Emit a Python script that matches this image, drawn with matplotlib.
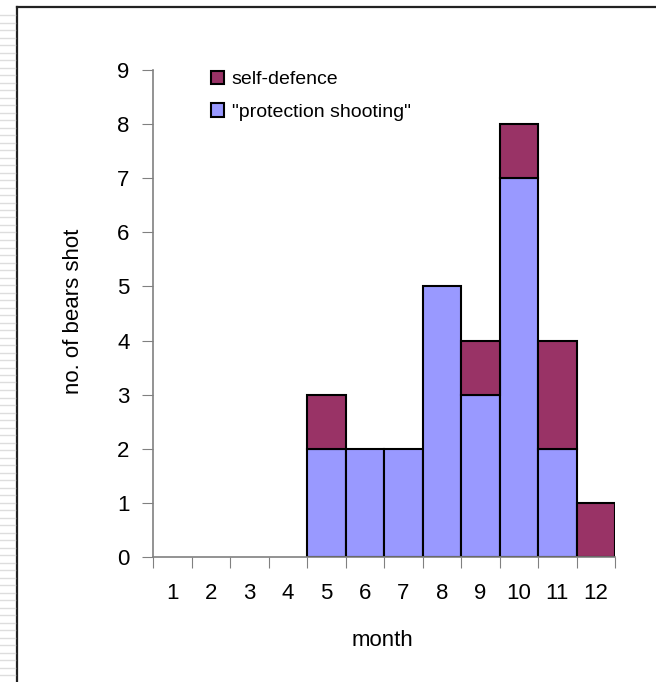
import matplotlib
matplotlib.use("Agg")
import matplotlib.pyplot as plt
from matplotlib.lines import Line2D
import numpy as np

plt.rcParams['font.family'] = ['Liberation Sans', 'DejaVu Sans']

# monthly counts of bears shot
months = np.arange(1, 13)
protection = [0, 0, 0, 0, 2, 2, 2, 5, 3, 7, 2, 0]
self_defence = [0, 0, 0, 0, 1, 0, 0, 0, 1, 1, 2, 1]

fig = plt.figure(figsize=(6.56, 6.82), dpi=100)
ax = fig.add_axes([153 / 656, 125 / 682, 462 / 656, 487 / 682])

b1 = ax.bar(months, protection, width=1, color="#9999FF", edgecolor="black",
            linewidth=1.5, label='"protection shooting"')
b2 = ax.bar(months, self_defence, width=1, bottom=protection, color="#993366",
            edgecolor="black", linewidth=1.5, label="self-defence")
# hide empty segments so no black edge is drawn on the axis
for p in list(b1) + list(b2):
    if p.get_height() == 0:
        p.set_visible(False)

ax.set_xlim(0.5, 12.5)
ax.set_ylim(0, 9)
ax.set_yticks(range(10))
ax.set_xticks(np.arange(0.5, 13, 1))
ax.set_xticklabels([])
ax.set_xticks(months, minor=True)
ax.set_xticklabels([str(m) for m in months], minor=True)
ax.tick_params(axis="x", which="major", direction="out", length=8, color="#808080")
ax.tick_params(axis="x", which="minor", length=0, pad=19, labelsize=16)
ax.tick_params(axis="y", direction="out", length=8, color="#808080", pad=9, labelsize=16)

for s in ["top", "right"]:
    ax.spines[s].set_visible(False)
for s in ["left", "bottom"]:
    ax.spines[s].set_color("#808080")
    ax.spines[s].set_linewidth(1.2)

ax.set_xlabel("month", fontsize=16, va="center")
ax.xaxis.set_label_coords(0.497, -0.172)
ax.set_ylabel("no. of bears shot", fontsize=16, va="center")
ax.yaxis.set_label_coords(-0.171, 0.505)

leg = ax.legend(handles=[b2, b1], loc="upper left",
                bbox_to_anchor=(201 / 656, 1 - 61 / 682),
                bbox_transform=fig.transFigure, frameon=False, fontsize=14,
                handlelength=0.67, handleheight=0.67, handletextpad=0.4,
                labelspacing=0.78, borderpad=0)
for h in leg.legend_handles:
    h.set_linewidth(1.5)
    h.set_visible(True)

# slide frame and striped margin
fig.add_artist(Line2D([17 / 656, 17 / 656], [0, 1 - 7 / 682],
                      transform=fig.transFigure, color="#222222", lw=1.6))
fig.add_artist(Line2D([17 / 656, 1], [1 - 7 / 682, 1 - 7 / 682],
                      transform=fig.transFigure, color="#222222", lw=1.6))
for yy in np.arange(15, 682, 7.5):
    fig.add_artist(Line2D([0, 15 / 656], [1 - yy / 682, 1 - yy / 682],
                          transform=fig.transFigure, color="#dddddd", lw=1))

fig.savefig("out.png", dpi=100)
